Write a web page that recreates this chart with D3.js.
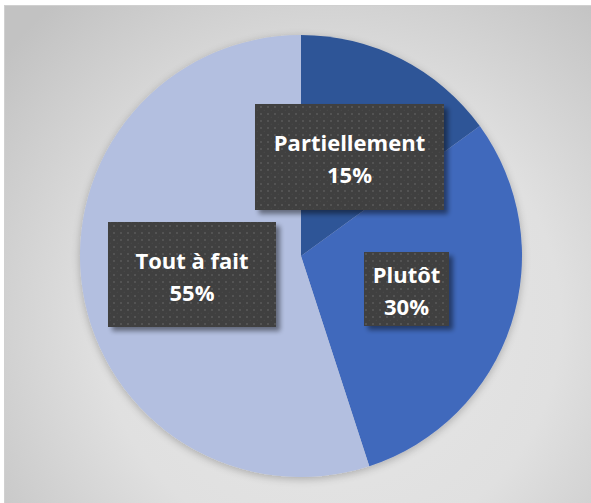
<!DOCTYPE html>
<html><head><meta charset="utf-8">
<script src="https://cdn.jsdelivr.net/npm/d3@7"></script>
<style>html,body{margin:0;padding:0;background:#fff;}svg{display:block;}</style>
</head><body>
<script>
const categories = ["Partiellement", "Plutôt", "Tout à fait"];
const values = [15, 30, 55];
const valueLabels = ["15%", "30%", "55%"];
const colors = ["#2F5597", "#4169BC", "#B3BFE0"];

const W = 591, H = 503;
const svg = d3.select("body").append("svg").attr("width", W).attr("height", H);
const defs = svg.append("defs");

const bg = defs.append("radialGradient").attr("id","bg")
  .attr("gradientUnits","userSpaceOnUse").attr("cx",330).attr("cy",320).attr("r",420);
bg.append("stop").attr("offset","0").attr("stop-color","#e7e7e7");
bg.append("stop").attr("offset","0.55").attr("stop-color","#e0e0e0");
bg.append("stop").attr("offset","1").attr("stop-color","#c2c2c2");

const pat = defs.append("pattern").attr("id","dots").attr("patternUnits","userSpaceOnUse")
  .attr("width",7).attr("height",7);
pat.append("rect").attr("width",7).attr("height",7).attr("fill","#3f3f3f");
pat.append("rect").attr("x",1).attr("y",1).attr("width",2).attr("height",2).attr("fill","#525252");
pat.append("rect").attr("x",4.5).attr("y",4.5).attr("width",1.5).attr("height",1.5).attr("fill","#474747");

const sh = defs.append("filter").attr("id","shadow").attr("x","-20%").attr("y","-20%").attr("width","150%").attr("height","150%");
sh.append("feGaussianBlur").attr("in","SourceAlpha").attr("stdDeviation",2.5).attr("result","b");
sh.append("feOffset").attr("in","b").attr("dx",4).attr("dy",4).attr("result","o");
sh.append("feComponentTransfer").attr("in","o").attr("result","s")
  .append("feFuncA").attr("type","linear").attr("slope",0.45);
const m = sh.append("feMerge");
m.append("feMergeNode").attr("in","s");
m.append("feMergeNode").attr("in","SourceGraphic");

const pieSh = defs.append("filter").attr("id","pshadow").attr("x","-20%").attr("y","-20%").attr("width","140%").attr("height","140%");
pieSh.append("feGaussianBlur").attr("in","SourceAlpha").attr("stdDeviation",4).attr("result","b");
pieSh.append("feOffset").attr("in","b").attr("dx",0).attr("dy",2).attr("result","o");
pieSh.append("feComponentTransfer").attr("in","o").attr("result","s")
  .append("feFuncA").attr("type","linear").attr("slope",0.25);
const pm = pieSh.append("feMerge");
pm.append("feMergeNode").attr("in","s");
pm.append("feMergeNode").attr("in","SourceGraphic");

// frame
svg.append("rect").attr("x",0).attr("y",0).attr("width",W).attr("height",H).attr("fill","#ffffff");
svg.append("rect").attr("x",4).attr("y",5).attr("width",W-4).attr("height",H-5).attr("fill","url(#bg)");
svg.append("line").attr("x1",4).attr("x2",W).attr("y1",5.5).attr("y2",5.5).attr("stroke","#d0d0d0").attr("stroke-width",1);
svg.append("line").attr("x1",4.5).attr("x2",4.5).attr("y1",5).attr("y2",H).attr("stroke","#d0d0d0").attr("stroke-width",1);

const cx = 301, cy = 256, R = 221;
const pie = d3.pie().sort(null).value(d => d)(values);
const arc = d3.arc().innerRadius(0).outerRadius(R);
const g = svg.append("g").attr("transform", `translate(${cx},${cy})`).attr("filter","url(#pshadow)");
g.selectAll("path").data(pie).join("path")
  .attr("d", arc).attr("fill", (d,i) => colors[i]);

// label boxes
const boxes = [
  {x:255, y:104, w:189, h:106},
  {x:364, y:252, w:85, h:74},
  {x:108, y:222, w:168, h:105}
];
const lg = svg.append("g");
boxes.forEach((b,i) => {
  const bgp = lg.append("g").attr("filter","url(#shadow)");
  bgp.append("rect").attr("x",b.x).attr("y",b.y).attr("width",b.w).attr("height",b.h).attr("fill","url(#dots)");
  const t = lg.append("text").attr("text-anchor","middle")
    .attr("font-family","'Open Sans', 'Noto Sans', sans-serif").attr("font-weight","bold")
    .attr("font-size",22).attr("fill","#ffffff");
  const mx = b.x + b.w/2, my = b.y + b.h/2;
  t.append("tspan").attr("x",mx).attr("y",my - 6).text(categories[i]);
  t.append("tspan").attr("x",mx).attr("y",my + 26).text(valueLabels[i]);
});
</script>
</body></html>
